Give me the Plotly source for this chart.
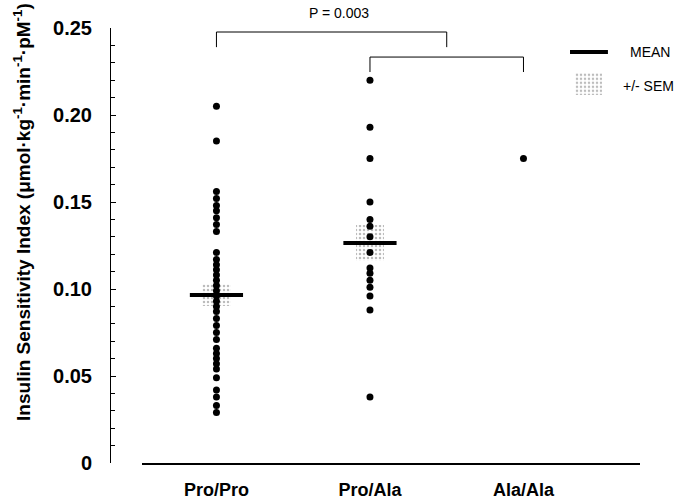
import plotly.graph_objects as go

# ---------------- data ----------------
categories = ["Pro/Pro", "Pro/Ala", "Ala/Ala"]
cat_pos = [0, 1, 2]

pro_pro = [0.205, 0.185,
           0.156, 0.152, 0.148, 0.145, 0.141, 0.137, 0.133,
           0.121, 0.117, 0.114, 0.111, 0.108, 0.105, 0.102, 0.099, 0.096, 0.093, 0.090, 0.087,
           0.083, 0.079, 0.075, 0.071, 0.066, 0.063, 0.060, 0.057, 0.054, 0.049, 0.042, 0.038,
           0.033, 0.029]
pro_ala = [0.220, 0.193, 0.175, 0.150, 0.140, 0.136, 0.130, 0.121, 0.112, 0.109, 0.105,
           0.101, 0.096, 0.088, 0.038]
ala_ala = [0.175]

group_means = [0.0966, 0.1265]
group_sems = [0.0063, 0.0105]

y_ticks = [0, 0.05, 0.10, 0.15, 0.20, 0.25]
y_tick_labels = ["0", "0.05", "0.10", "0.15", "0.20", "0.25"]

# comparisons: (from, to, level, leg_drop)
comparisons = [(0, 1.5, 0.2477, 0.0087), (1, 2, 0.2333, 0.0086)]
p_label = "P = 0.003"

# ---------------- figure ----------------
FONT = "Liberation Sans, Arial, sans-serif"
fig = go.Figure()

# SEM boxes
fig.add_trace(go.Bar(
    x=cat_pos[:2],
    y=[2 * s for s in group_sems],
    base=[m - s for m, s in zip(group_means, group_sems)],
    width=0.185,
    marker=dict(color="white", line=dict(width=0),
                pattern=dict(shape=".", size=4, solidity=0.3, fgcolor="#777", bgcolor="white")),
    showlegend=False, hoverinfo="skip",
))

# individual points
for xpos, vals in zip(cat_pos, [pro_pro, pro_ala, ala_ala]):
    fig.add_trace(go.Scatter(
        x=[xpos] * len(vals), y=vals, mode="markers",
        marker=dict(size=7, color="black"), showlegend=False,
    ))

# mean lines
fig.add_trace(go.Scatter(
    x=cat_pos[:2], y=group_means, mode="markers",
    marker=dict(symbol="line-ew", size=38, line=dict(width=4, color="black")),
    showlegend=False,
))

# legend SEM box on a small helper axis
fig.add_trace(go.Bar(
    x=[0], y=[1], width=1, xaxis="x2", yaxis="y2",
    marker=dict(color="white", line=dict(width=0),
                pattern=dict(shape=".", size=4, solidity=0.3, fgcolor="#777", bgcolor="white")),
    showlegend=False, hoverinfo="skip",
))

# brackets
for x0, x1, lvl, drop in comparisons:
    fig.add_shape(type="path",
                  path=f"M {x0},{lvl - drop} L {x0},{lvl} L {x1},{lvl} L {x1},{lvl - drop}",
                  xref="x", yref="y", line=dict(color="black", width=1))
fig.add_annotation(x=0.8, y=1.0345, xref="x", yref="paper", text=p_label, showarrow=False,
                   xanchor="center", yanchor="middle",
                   font=dict(family=FONT, size=14, color="black"))

# legend mean line + texts
fig.add_shape(type="line", xref="paper", yref="paper", x0=0.8028, x1=0.869, y0=0.9448, y1=0.9448,
              line=dict(color="black", width=4))
fig.add_annotation(x=0.904, y=0.9448, xref="paper", yref="paper", text="MEAN", showarrow=False,
                   xanchor="left", yanchor="middle", font=dict(family=FONT, size=14, color="black"))
fig.add_annotation(x=0.8918, y=0.8667, xref="paper", yref="paper", text="+/- SEM", showarrow=False,
                   xanchor="left", yanchor="middle", font=dict(family=FONT, size=14, color="black"))

# y-axis title
fig.add_annotation(
    x=0, xref="paper", xshift=-88, y=0.1443, yref="y",
    xanchor="center", yanchor="middle",
    text="<b>Insulin Sensitivity Index (μmol·kg<sup>-1</sup>·min<sup>-1</sup>·pM<sup>-1</sup>)</b>",
    textangle=-90, showarrow=False, font=dict(family=FONT, size=19, color="black"),
)

fig.update_layout(
    width=683, height=500,
    margin=dict(l=110, r=0, t=28, b=37),
    paper_bgcolor="white", plot_bgcolor="white",
    font=dict(family=FONT, color="black"),
    bargap=0, barmode="overlay",
    xaxis=dict(
        domain=[32 / 573, 530 / 573], range=[-0.485, 2.759],
        tickmode="array", tickvals=cat_pos, ticktext=[f"<b>{c}</b>" for c in categories],
        showline=True, linecolor="black", linewidth=1.5, ticks="",
        showgrid=False, zeroline=False, ticklabelstandoff=10,
        tickfont=dict(family=FONT, size=18, color="black"),
    ),
    yaxis=dict(
        anchor="free", position=0, range=[0, 0.25],
        tickmode="array", tickvals=y_ticks, ticktext=[f"<b>{t}</b>" for t in y_tick_labels],
        showline=True, linecolor="black", linewidth=1,
        ticks="inside", ticklen=5, tickcolor="black",
        minor=dict(dtick=0.01, ticks="inside", ticklen=4, tickcolor="black", showgrid=False),
        showgrid=False, zeroline=False, ticklabelstandoff=14,
        tickfont=dict(family=FONT, size=20, color="black"),
    ),
    xaxis2=dict(domain=[0.8115, 0.8586], range=[-0.5, 0.5], visible=False, anchor="y2"),
    yaxis2=dict(domain=[0.846, 0.897], range=[0, 1], visible=False, anchor="x2"),
)

fig.write_html("out.html", config={"displayModeBar": False},
               post_script="document.body.style.margin='0';")
